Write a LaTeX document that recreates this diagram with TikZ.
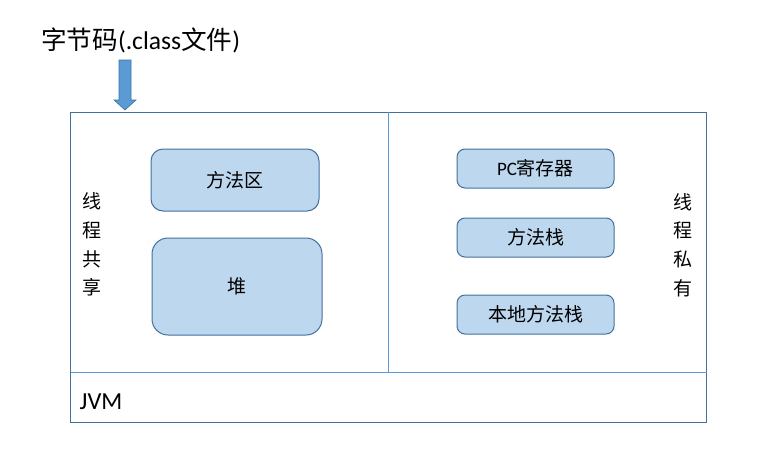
\documentclass[tikz,border=0pt]{standalone}
\usepackage{fontspec}
\setmainfont{Carlito}
\newfontfamily\cjk{Noto Sans CJK SC}
\definecolor{outline}{RGB}{65,113,156}
\definecolor{divline}{RGB}{91,155,213}
\definecolor{boxfill}{RGB}{189,215,238}
\definecolor{arrfill}{RGB}{91,155,213}
\begin{document}
\begin{tikzpicture}[x=1pt,y=-1pt,
  area/.style={draw=outline,fill=boxfill,line width=1pt,inner sep=0pt,font=\fontsize{19}{19}\selectfont},
  vtext/.style={align=center,inner sep=0pt,font=\fontsize{19}{28.6}\selectfont\cjk},
  divider/.style={draw=divline,line width=1pt}]
\useasboundingbox (0,0) rectangle (767,466);
% title
\node[anchor=west,inner sep=0pt,font=\fontsize{25.6}{25.6}\selectfont] (title) at (41,40) {{\cjk 字节码}(.class{\cjk 文件})};
% outer JVM frame
\node[draw=outline,line width=1pt,minimum width=636pt,minimum height=310pt,inner sep=0pt] (jvm) at (388.5,267) {};
\coordinate (divtopx) at (388,112);
\coordinate (divbot) at (388,372);
\coordinate (hl) at (70.5,372);
\coordinate (hr) at (706.5,372);
\draw[divider] (divtopx) -- (divbot);
\draw[divider] (hl) -- (hr);
% arrow
\fill[arrfill,draw=outline,line width=0.6pt] (119,60) -- (131,60) -- (131,100) -- (136,100) -- (125,110) -- (114,100) -- (119,100) -- cycle;
% left areas
\node[area,rounded corners=12pt,minimum width=168pt,minimum height=62pt] (mz) at (235,180) {\cjk 方法区};
\node[area,rounded corners=16pt,minimum width=170pt,minimum height=97pt] (heap) at (237,286.5) {\cjk 堆};
% right areas
\node[area,rounded corners=8pt,minimum width=157pt,minimum height=39pt] (pc) at (535.5,168.5) {PC{\cjk 寄存器}};
\node[area,rounded corners=8pt,minimum width=157pt,minimum height=39pt] (ms) at (535.5,237.5) {\cjk 方法栈};
\node[area,rounded corners=8pt,minimum width=157pt,minimum height=39pt] (nms) at (535.5,314.5) {\cjk 本地方法栈};
% vertical labels
\node[vtext] (shared) at (92,244.5) {线\\程\\共\\享};
\node[vtext] (private) at (683,245) {线\\程\\私\\有};
% JVM label
\node[anchor=west,inner sep=0pt,font=\fontsize{24.5}{24.5}\selectfont] (jvmlabel) at (79.5,402) {JVM};
\end{tikzpicture}
\end{document}
